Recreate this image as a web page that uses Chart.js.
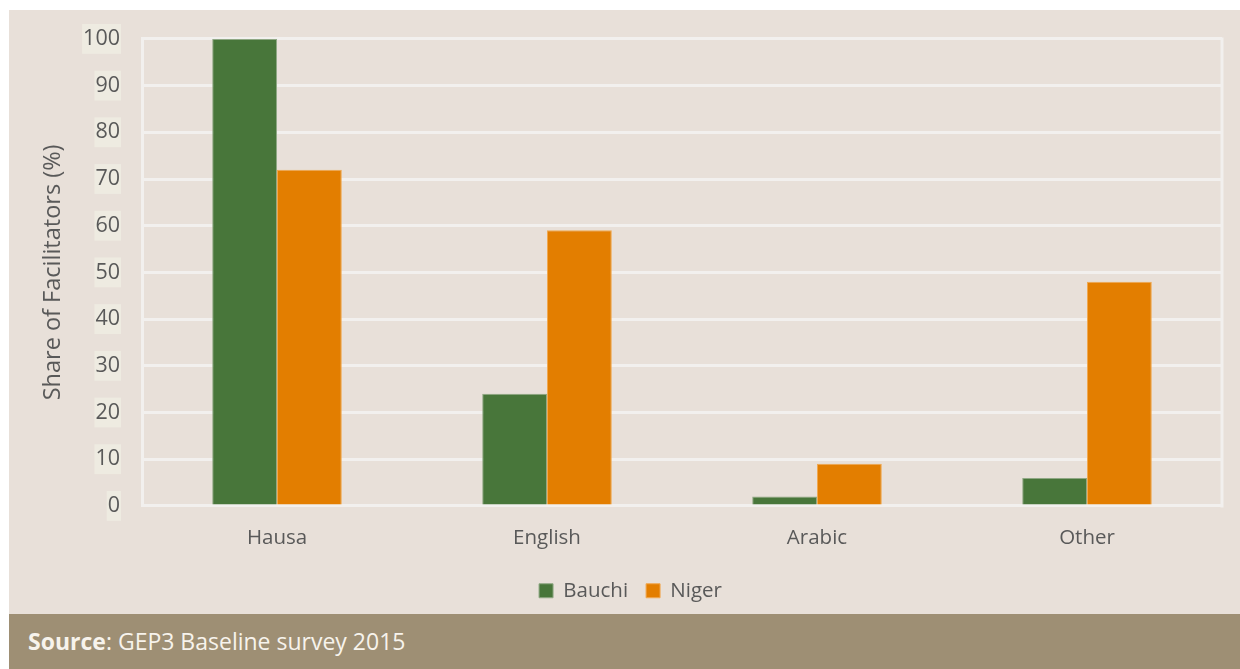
<!DOCTYPE html>
<html>
<head>
<meta charset="utf-8">
<script src="https://cdn.jsdelivr.net/npm/chart.js@4"></script>
<style>
  html, body { margin: 0; padding: 0; background: #ffffff; }
  body { width: 1240px; height: 669px; position: relative; overflow: hidden; font-family: "Open Sans", sans-serif; }
  #panel { position: absolute; left: 9px; top: 10px; width: 1231px; height: 604px; background: #e8e0d9; overflow: hidden; }
  #chart { position: absolute; left: 0; top: -6px; }
  #footer { position: absolute; left: 9px; top: 614px; width: 1231px; height: 55px; background: #9e8f74;
            color: #f7f3ec; font-size: 23px; line-height: 55px; padding-left: 19px; box-sizing: border-box; }
  #footer b { font-weight: 700; }
</style>
</head>
<body>
<div id="panel"><canvas id="chart" width="1231" height="610"></canvas></div>
<div id="footer"><b>Source</b>: GEP3 Baseline survey 2015</div>
<script>
const categories = ["Hausa", "English", "Arabic", "Other"];
const bauchi = [100, 24, 2, 6];
const niger = [72, 59, 9, 48];
const yTicks = [0, 10, 20, 30, 40, 50, 60, 70, 80, 90, 100];

const gridColor = "#f2f0ee";
const textColor = "#595959";

// right edge of the plot frame
const frameRight = {
    id: "frameRight",
    afterDraw(chart) {
        const a = chart.chartArea;
        const ctx = chart.ctx;
        ctx.save();
        ctx.strokeStyle = gridColor;
        ctx.lineWidth = 3;
        ctx.beginPath();
        ctx.moveTo(a.right, a.top - 1.5);
        ctx.lineTo(a.right, a.bottom + 1.5);
        ctx.stroke();
        ctx.restore();
    }
};

new Chart(document.getElementById("chart"), {
    type: "bar",
    data: {
        labels: categories,
        datasets: [
            { label: "Bauchi", data: bauchi, backgroundColor: "#48763a", borderColor: "#8fa884", borderWidth: 1 },
            { label: "Niger", data: niger, backgroundColor: "#e37e00", borderColor: "#f0a850", borderWidth: 1 }
        ]
    },
    options: {
        responsive: false,
        animation: false,
        layout: { padding: { top: 8, right: 18, left: 30, bottom: 3 } },
        datasets: { bar: { categoryPercentage: 0.48, barPercentage: 1 } },
        plugins: {
            legend: {
                position: "bottom",
                labels: { color: textColor, font: { family: "Open Sans", size: 20.5 }, boxWidth: 14, boxHeight: 14, padding: 18 }
            },
            tooltip: { enabled: false }
        },
        scales: {
            x: {
                grid: { display: false },
                border: { display: false },
                ticks: { color: textColor, font: { family: "Open Sans", size: 20.5 }, padding: 12 }
            },
            y: {
                min: 0,
                max: 100,
                afterBuildTicks: s => { s.ticks = yTicks.map(v => ({ value: v })); },
                afterFit: s => { s.width = 103; },
                grid: { color: gridColor, lineWidth: 3, drawTicks: false },
                border: { color: gridColor, width: 3 },
                ticks: {
                    color: textColor,
                    font: { family: "Open Sans", size: 21.5 },
                    padding: 22,
                    showLabelBackdrop: true,
                    backdropColor: "#eeebe1",
                    backdropPadding: { left: 1, right: 1, top: 2, bottom: 2 }
                },
                title: {
                    display: true,
                    text: "Share of Facilitators (%)",
                    color: textColor,
                    font: { family: "Open Sans", size: 23.5 },
                    padding: 0
                }
            }
        }
    },
    plugins: [frameRight]
});
</script>
</body>
</html>
